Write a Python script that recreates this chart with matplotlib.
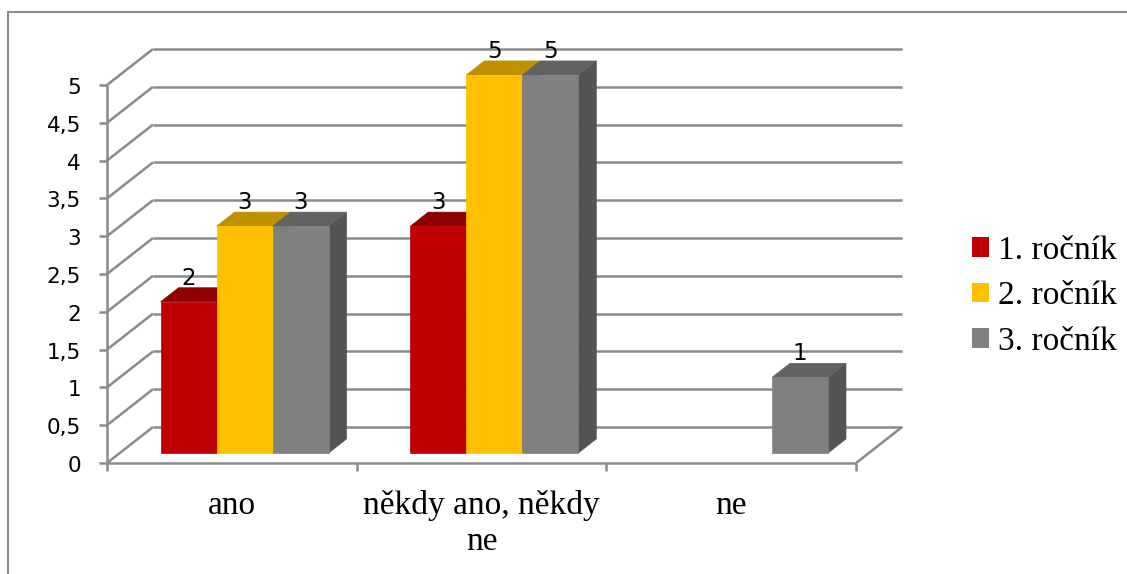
import numpy as np
import matplotlib
matplotlib.use("Agg")
import matplotlib.pyplot as plt
from matplotlib.patches import Polygon, Patch
from matplotlib.lines import Line2D

categories = ["ano", "někdy ano, někdy\nne", "ne"]
series = ["1. ročník", "2. ročník", "3. ročník"]
values_1 = [2, 3, 0]
values_2 = [3, 5, 0]
values_3 = [3, 5, 1]
y_ticks = np.arange(0, 5.01, 0.5)
tick_labels = [f"{t:g}".replace(".", ",") for t in y_ticks]

# front, top, side shades per series
colors = [("#C00000", "#900000", "#780000"),
          ("#FFC000", "#C09000", "#A07800"),
          ("#808080", "#626262", "#545454")]

W, H = 1127, 574
fig = plt.figure(figsize=(W / 100, H / 100), dpi=100)
ax = fig.add_axes([0, 0, 1, 1])

# pixels per category / per value unit, origin of the front plane
px_x, px_y = 249.7, 75.6
x0_px, y0_px = 107, 463
ax.set_xlim(-x0_px / px_x, (W - x0_px) / px_x)
ax.set_ylim(-(H - y0_px) / px_y, y0_px / px_y)
ax.axis("off")

DX, DY = 46 / px_x, 36 / px_y   # depth of the floor
n_cat = len(categories)
ymax = y_ticks[-1]
grid_kw = dict(color="#8a8a8a", lw=1.8, solid_capstyle="butt", zorder=1)
sans = "DejaVu Sans"
serif = "Liberation Serif"

# walls, floor and axis
for v, lab in zip(y_ticks, tick_labels):
    ax.plot([DX, n_cat + DX], [v + DY, v + DY], **grid_kw)
    ax.plot([0, DX], [v, v + DY], **grid_kw)
    ax.plot([-8 / px_x, 0], [v, v], **grid_kw)
    ax.text(-26 / px_x, v - 3 / px_y, lab, ha="right", va="center",
            family=sans, fontsize=15.5, color="#000000")
ax.plot([0, 0], [0, ymax], **grid_kw)
ax.plot([0, n_cat], [0, 0], **grid_kw)
ax.plot([n_cat, n_cat + DX], [0, DY], **grid_kw)
for i in range(n_cat + 1):
    ax.plot([i, i], [0, -8 / px_y], **grid_kw)

for i, cat in enumerate(categories):
    ax.text(i + 0.5, -27 / px_y, cat, ha="center", va="top",
            family=serif, fontsize=24, linespacing=1.25)

# 3D bars
bar_w = 56 / px_x
d0, d1 = 0.278, 0.668
ddx, ddy = (d1 - d0) * DX, (d1 - d0) * DY
z = 2
for i in range(n_cat):
    for j, vals in enumerate([values_1, values_2, values_3]):
        v = vals[i]
        if v == 0:
            continue
        front_c, top_c, side_c = colors[j]
        xl = i + 0.5 + (j - 1.5) * bar_w + d0 * DX
        xr = xl + bar_w
        yb = d0 * DY
        yt = yb + v
        side = [(xr, yb), (xr + ddx, yb + ddy), (xr + ddx, yt + ddy), (xr, yt)]
        top = [(xl, yt), (xr, yt), (xr + ddx, yt + ddy), (xl + ddx, yt + ddy)]
        front = [(xl, yb), (xr, yb), (xr, yt), (xl, yt)]
        for pts, c in [(side, side_c), (top, top_c), (front, front_c)]:
            ax.add_patch(Polygon(pts, closed=True, facecolor=c,
                                 edgecolor=c, lw=0.5, zorder=z))
        ax.text(xl + bar_w / 2, yt + ddy + 3 / px_y, f"{v}", ha="center",
                va="baseline", family=sans, fontsize=16.5, zorder=z + 1)
        z += 2

handles = [Patch(facecolor=c[0], edgecolor="none") for c in colors]
ax.legend(handles, series, loc="center left",
          bbox_to_anchor=(972 / W, 1 - 296 / H), frameon=False,
          prop=dict(family=serif, size=24), handlelength=0.52,
          handleheight=0.52, handletextpad=0.25, labelspacing=0.45,
          borderpad=0, borderaxespad=0)

# chart frame
fig.add_artist(Line2D([8 / W, 8 / W], [0, 1 - 12 / H], color="#8c8c8c", lw=1.5))
fig.add_artist(Line2D([8 / W, 1], [1 - 12 / H, 1 - 12 / H], color="#8c8c8c", lw=1.5))

fig.savefig("out.png", dpi=100)
